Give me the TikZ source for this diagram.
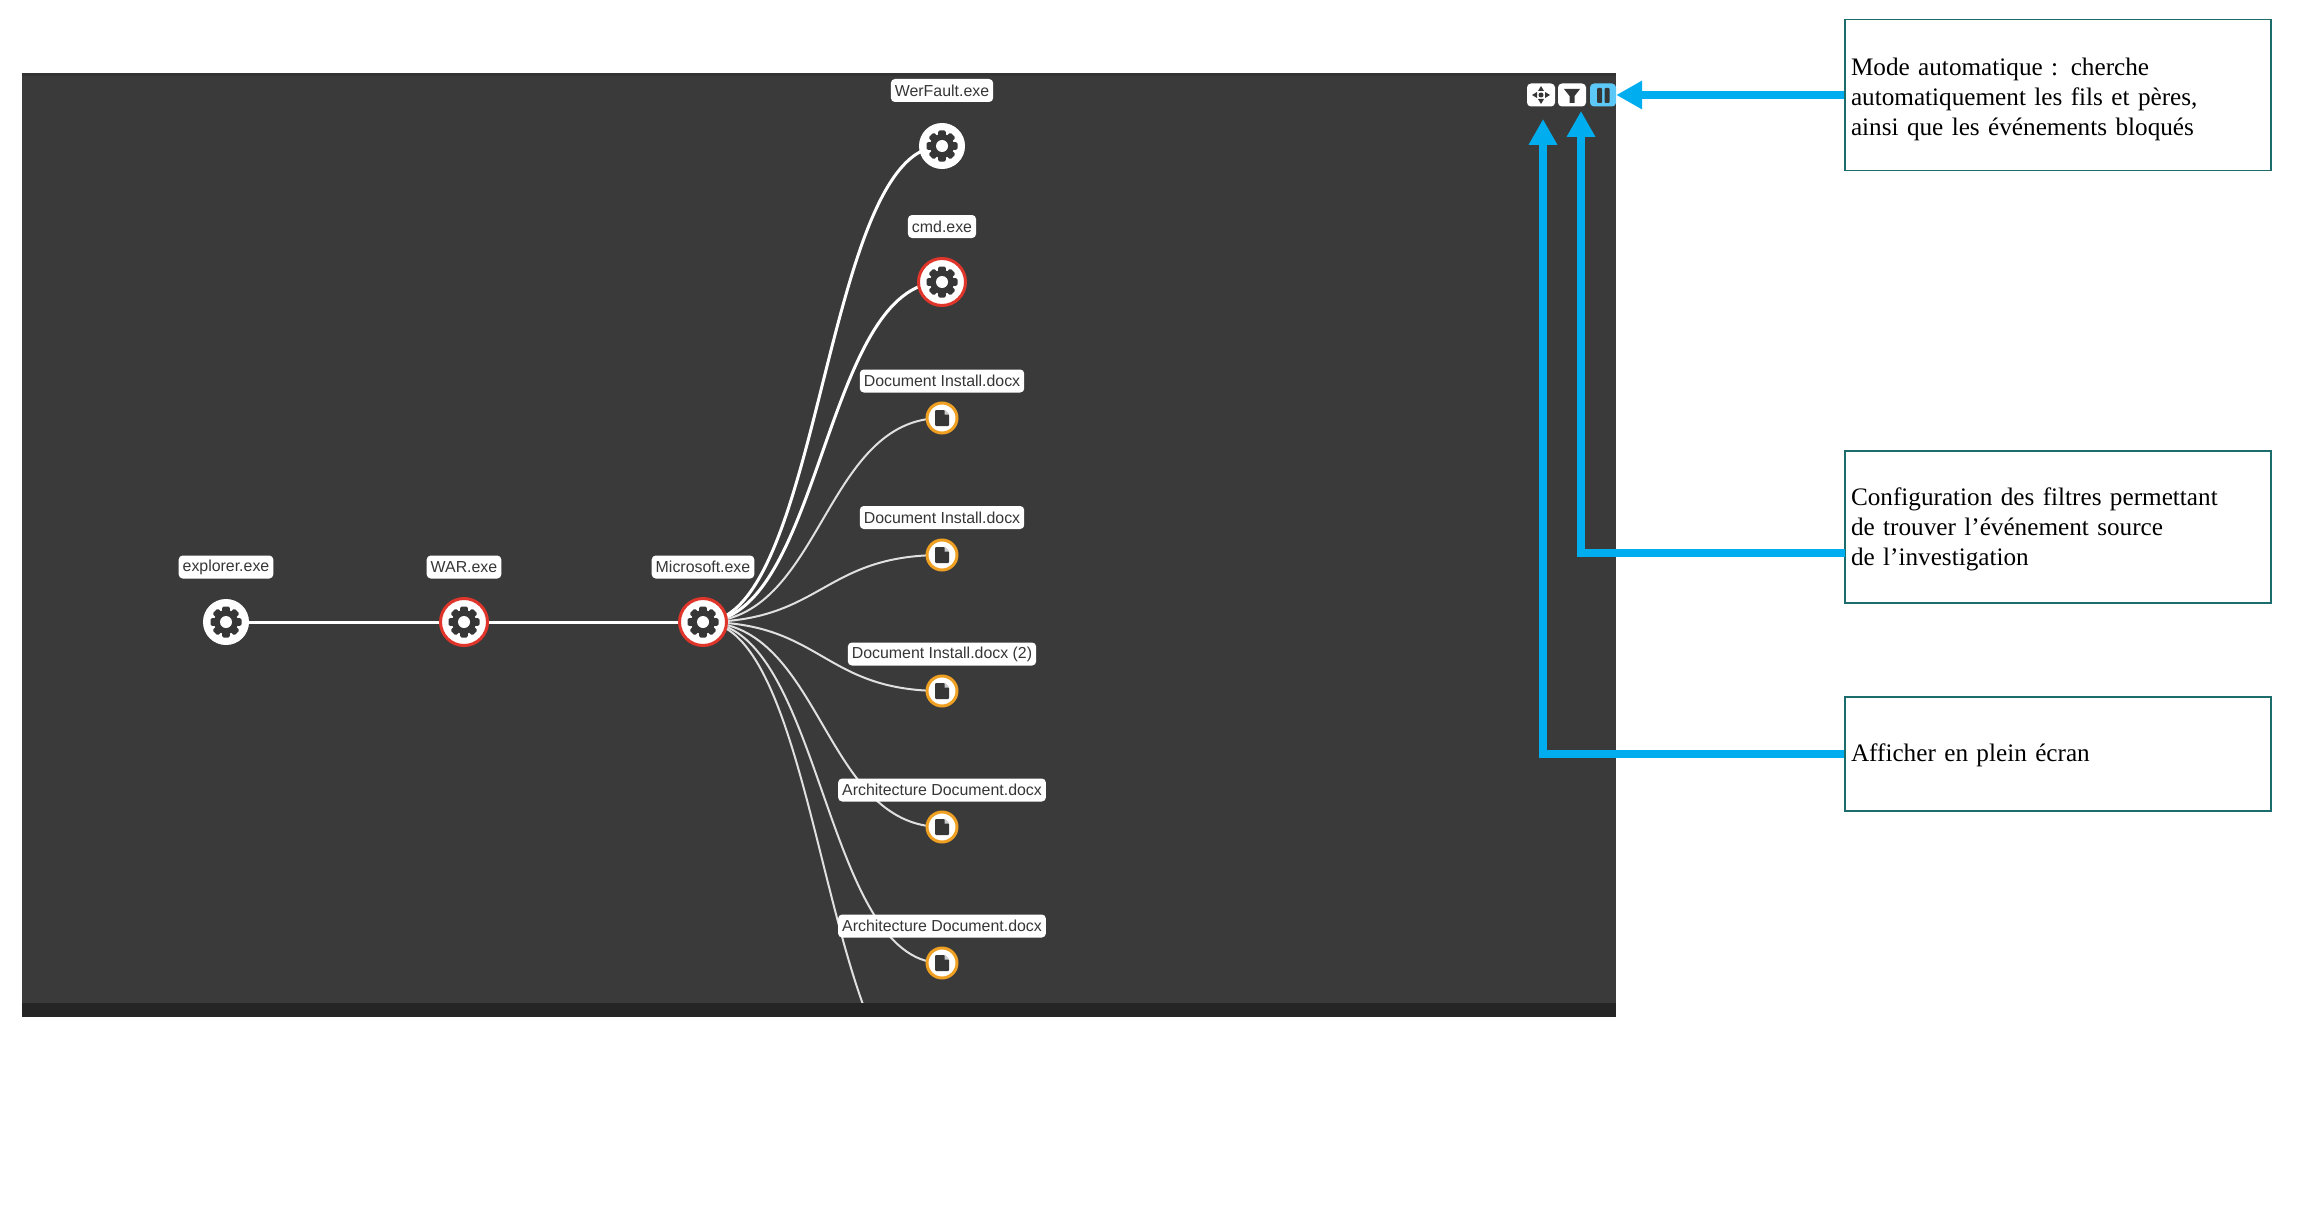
\documentclass[tikz,border=0pt]{standalone}
\usepackage{fontspec}
\usepackage{xcolor}
\usepackage{tikz}
\usetikzlibrary{arrows.meta,positioning}
\setmainfont{Liberation Serif}
\newfontfamily\labelsans{Liberation Sans}
\definecolor{panelgrey}{HTML}{3A3A3A}
\definecolor{bandgrey}{HTML}{252525}
\definecolor{icongrey}{HTML}{363636}
\definecolor{alertred}{HTML}{E0352B}
\definecolor{docamber}{HTML}{EFA023}
\definecolor{calloutblue}{HTML}{00AEEF}
\definecolor{activeblue}{HTML}{5CC8F8}
\definecolor{boxteal}{HTML}{1C6C6C}
\tikzset{
  procnode/.style={circle,fill=white,draw=white,line width=1pt,minimum size=45pt,inner sep=0pt,outer sep=0pt},
  alertnode/.style={circle,fill=white,draw=alertred,line width=3pt,minimum size=47pt,inner sep=0pt,outer sep=0pt},
  docnode/.style={circle,fill=white,draw=docamber,line width=3pt,minimum size=30pt,inner sep=0pt,outer sep=0pt},
  tagnode/.style={rectangle,rounded corners=4pt,fill=white,text=icongrey,minimum height=23pt,inner xsep=4pt,inner ysep=0pt,font=\labelsans\fontsize{15.9}{18}\selectfont},
  toolbtn/.style={rectangle,rounded corners=4pt,fill=white,minimum width=28pt,minimum height=23pt,inner sep=0pt},
  notebox/.style={rectangle,draw=boxteal,line width=1.6pt,fill=white,minimum width=426pt,text width=414pt,align=left,inner xsep=6pt,inner ysep=0pt,font=\fontsize{25.2}{30}\selectfont},
  thicklink/.style={draw=white,line width=3pt},
  thinlink/.style={draw=white!88!black,line width=2pt},
  callout/.style={draw=calloutblue,line width=7.5pt,-{Triangle[length=26pt,width=27pt]}},
  pics/gearicon/.style={code={
    \foreach \ang in {0,45,...,315}{
      \fill[icongrey,rotate=\ang,rounded corners=1.5pt] (-3.8,-15.5) rectangle (3.8,0);
    }
    \fill[icongrey] (0,0) circle (12);
    \fill[white] (0,0) circle (6);
  }},
  pics/docicon/.style={code={
    \fill[icongrey,rounded corners=1pt] (-7,-8) -- (2.5,-8) -- (7,-3.5) -- (7,8) -- (-7,8) -- cycle;
    \fill[white!80!black] (2.5,-8) -- (7,-3.5) -- (2.5,-3.5) -- cycle;
  }}
}

\begin{document}
\begin{tikzpicture}[x=1pt,y=-1pt]
\useasboundingbox (0,0) rectangle (2302,1212);
% screenshot panel
\fill[panelgrey] (22,73) rectangle (1616,1017);
\fill[black!80] (22,73) rectangle (1616,76);

% graph nodes
\coordinate (n0) at (226,622);
\coordinate (n1) at (464,622);
\coordinate (n2) at (703,622);
\coordinate (c0) at (942,146);
\coordinate (c1) at (942,282);
\coordinate (d0) at (942,418);
\coordinate (d1) at (942,555);
\coordinate (d2) at (942,691);
\coordinate (d3) at (942,827);
\coordinate (d4) at (942,963);
\coordinate (d5) at (942,1100);

% links
\begin{scope}
\clip (22,73) rectangle (1616,1003);
\draw[thicklink] (n0) -- (n1);
\draw[thicklink] (n1) -- (n2);
\foreach \leaf in {c0,c1}
  \draw[thicklink] (n2) .. controls +(119.5,0) and +(-119.5,0) .. (\leaf);
\foreach \leaf in {d0,d1,d2,d3,d4,d5}
  \draw[thinlink] (n2) .. controls +(119.5,0) and +(-119.5,0) .. (\leaf);
\end{scope}
\fill[bandgrey] (22,1003) rectangle (1616,1017);

\node[procnode] (explorer) at (n0) {};
\pic at (explorer) {gearicon};
\node[alertnode] (war) at (n1) {};
\pic at (war) {gearicon};
\node[alertnode] (microsoft) at (n2) {};
\pic at (microsoft) {gearicon};
\node[procnode] (werfault) at (c0) {};
\pic at (werfault) {gearicon};
\node[alertnode] (cmd) at (c1) {};
\pic at (cmd) {gearicon};
\foreach \leaf/\docname in {d0/install0,d1/install1,d2/install2,d3/archi0,d4/archi1}{
  \node[docnode] (\docname) at (\leaf) {};
  \pic at (\docname) {docicon};
}

% labels
\node[tagnode] (explorertag) at (226,567) {explorer.exe};
\node[tagnode] (wartag) at (464,567) {WAR.exe};
\node[tagnode] (microsofttag) at (703,567) {Microsoft.exe};
\node[tagnode] (werfaulttag) at (942,90.5) {WerFault.exe};
\node[tagnode] (cmdtag) at (942,226.5) {cmd.exe};
\node[tagnode] (install0tag) at (942,381) {Document Install.docx};
\node[tagnode] (install1tag) at (942,517.5) {Document Install.docx};
\node[tagnode] (install2tag) at (942,654) {Document Install.docx (2)};
\node[tagnode] (archi0tag) at (942,790) {Architecture Document.docx};
\node[tagnode] (archi1tag) at (942,926) {Architecture Document.docx};

% toolbar
\node[toolbtn] (fullbtn) at (1541,95) {};
\node[toolbtn] (filterbtn) at (1572,95) {};
\node[toolbtn,fill=activeblue,minimum width=26pt] (pausebtn) at (1603,95) {};
\fill[icongrey] (fullbtn.center) circle (2.5);
\foreach \ang in {0,90,180,270}
  \fill[icongrey,shift={(fullbtn.center)},rotate=\ang] (4,-3) -- (9,0) -- (4,3) -- cycle;
\fill[icongrey] (1564,89) -- (1580,89) -- (1574.5,96) -- (1574.5,103) -- (1569.5,103) -- (1569.5,96) -- cycle;
\fill[icongrey,rounded corners=1pt] (1597,88) rectangle (1602,103);
\fill[icongrey,rounded corners=1pt] (1604.5,88) rectangle (1609.5,103);

% notes
\node[notebox,minimum height=151pt] (modebox) at (2058,95) {\rule{0pt}{26pt}Mode automatique : cherche\\automatiquement les fils et pères,\\ainsi que les événements bloqués};
\node[notebox,minimum height=152pt] (filterbox) at (2058,527) {\rule{0pt}{23pt}Configuration des filtres permettant\\de trouver l’événement source\\de l’investigation};
\node[notebox,minimum height=114pt] (fullbox) at (2058,754) {\rule{0pt}{20pt}Afficher en plein écran};

\coordinate (filterstart) at (1845,553);
\coordinate (filtertip) at (1581,111);
\coordinate (fulltip) at (1543,119);
\draw[callout] (modebox.west) -- (pausebtn.east);
\draw[callout] (filterstart) -| (filtertip);
\draw[callout] (fullbox.west) -| (fulltip);
\end{tikzpicture}
\end{document}
